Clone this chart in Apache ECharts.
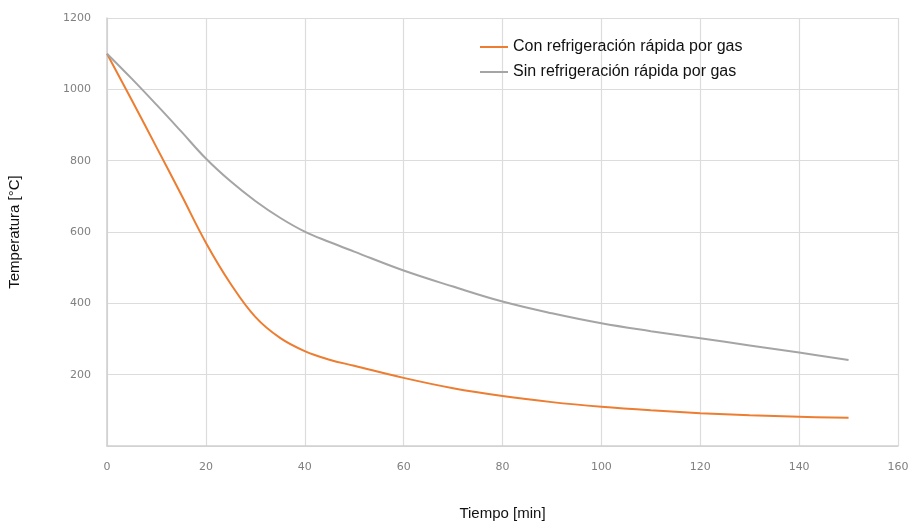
<!DOCTYPE html>
<html>
<head>
<meta charset="utf-8">
<script src="https://cdn.jsdelivr.net/npm/echarts@6/dist/echarts.min.js"></script>
<style>
  html, body { margin: 0; padding: 0; background: #fff; }
  #chart { width: 923px; height: 528px; }
</style>
</head>
<body>
<div id="chart"></div>
<script>
// tiempo [min]
var tiempo = [0, 5, 10, 15, 20, 25, 30, 35, 40, 45, 50, 60, 70, 80, 90, 100, 110, 120, 130, 140, 150];
// temperatura [°C]
var conGas = [1100, 970, 838, 705, 570, 455, 362, 303, 266, 242, 225, 191, 162, 140, 123, 110, 100, 92, 86, 82, 79];
var sinGas = [1100, 1030, 957, 882, 806, 742, 687, 640, 601, 572, 545, 492, 447, 405, 372, 344, 322, 302, 282, 262, 241];

function pares(xs, ys) {
  return xs.map(function (x, i) { return [x, ys[i]]; });
}

var chart = echarts.init(document.getElementById('chart'));
var option = {
  animation: false,
  grid: { left: 107, right: 25, top: 18, bottom: 82, containLabel: false, outerBoundsMode: 'none' },
  legend: {
    left: 475, top: 34, orient: 'vertical', itemGap: 9,
    itemWidth: 28, itemHeight: 2, icon: 'rect',
    textStyle: { fontFamily: 'Liberation Sans', fontSize: 16, color: '#111' },
    data: ['Con refrigeración rápida por gas', 'Sin refrigeración rápida por gas']
  },
  xAxis: {
    type: 'value', min: 0, max: 160, interval: 20,
    name: 'Tiempo [min]', nameLocation: 'middle', nameGap: 60,
    nameTextStyle: { fontFamily: 'Liberation Sans', fontSize: 15, color: '#111' },
    axisLine: { lineStyle: { color: '#cfcfcf', width: 1.5 } },
    axisTick: { show: false },
    axisLabel: { color: '#808080', fontSize: 11, margin: 16, fontFamily: 'DejaVu Sans' },
    splitLine: { show: true, lineStyle: { color: '#dcdcdc', width: 1.2 } }
  },
  yAxis: {
    type: 'value', min: 0, max: 1200, interval: 200,
    name: 'Temperatura [°C]', nameLocation: 'middle', nameGap: 85,
    nameTextStyle: { fontFamily: 'Liberation Sans', fontSize: 15, color: '#111' },
    axisLine: { show: true, lineStyle: { color: '#cfcfcf', width: 1.5 } },
    axisTick: { show: false },
    axisLabel: {
      color: '#808080', fontSize: 11, margin: 16, fontFamily: 'DejaVu Sans',
      formatter: function (v) { return v === 0 ? '' : v; }
    },
    splitLine: { show: true, lineStyle: { color: '#dcdcdc', width: 1.2 } }
  },
  series: [
    {
      name: 'Con refrigeración rápida por gas', type: 'line', smooth: 0.4,
      showSymbol: false, data: pares(tiempo, conGas),
      lineStyle: { color: '#ED7D31', width: 2 }, itemStyle: { color: '#ED7D31' }
    },
    {
      name: 'Sin refrigeración rápida por gas', type: 'line', smooth: 0.4,
      showSymbol: false, data: pares(tiempo, sinGas),
      lineStyle: { color: '#A5A5A5', width: 2 }, itemStyle: { color: '#A5A5A5' }
    }
  ]
};
chart.setOption(option);
</script>
</body>
</html>
